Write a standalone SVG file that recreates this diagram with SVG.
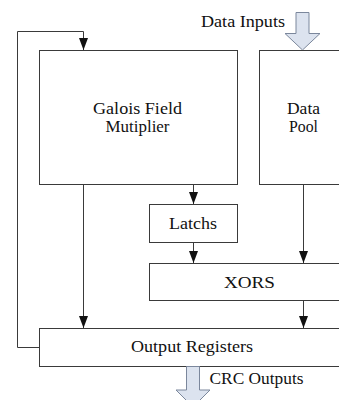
<svg xmlns="http://www.w3.org/2000/svg" width="339" height="400" viewBox="0 0 339 400">
  <style>
    .box { fill: #ffffff; stroke: #3a3a3a; stroke-width: 1; }
    .wire { fill: none; stroke: #3a3a3a; stroke-width: 1; }
    .bus { fill: #dce3ef; stroke: #7b879c; stroke-width: 1; stroke-linejoin: miter; }
    .lbl { font-family: "Liberation Serif", "Times New Roman", serif; font-size: 17px; fill: #111111; }
    .two { font-size: 16.5px; }
    .mid { text-anchor: middle; }
  </style>
  <defs>
    <marker id="tip" markerUnits="userSpaceOnUse" markerWidth="12" markerHeight="9" refX="12" refY="4.5" orient="auto">
      <path d="M0,0 L12,4.5 L0,9 Z" fill="#111111"/>
    </marker>
  </defs>

  <rect width="339" height="400" fill="#ffffff"/>

  <!-- connectors -->
  <g id="connectors">
    <path class="wire" d="M39.5 347.5 H17.5 V31.5 H83.5 V50" marker-end="url(#tip)"/>
    <path class="wire" d="M193.5 184.5 V204" marker-end="url(#tip)"/>
    <path class="wire" d="M193.5 242.5 V263" marker-end="url(#tip)"/>
    <path class="wire" d="M303.5 184.5 V263" marker-end="url(#tip)"/>
    <path class="wire" d="M83.5 184.5 V328" marker-end="url(#tip)"/>
    <path class="wire" d="M303.5 300.5 V328" marker-end="url(#tip)"/>
  </g>

  <!-- input / output buses -->
  <g id="data-inputs">
    <polygon class="bus" points="296,12.5 309,12.5 309,33.5 320,33.5 302.5,50 285,33.5 296,33.5"/>
    <text class="lbl" x="201" y="27" textLength="84" lengthAdjust="spacingAndGlyphs">Data Inputs</text>
  </g>

  <g id="gf-multiplier">
    <rect class="box" x="39.5" y="50.5" width="198" height="134"/>
    <text class="lbl two mid" x="137.5" y="113.5" textLength="89" lengthAdjust="spacingAndGlyphs">Galois Field</text>
    <text class="lbl two mid" x="137.5" y="131.5" textLength="64" lengthAdjust="spacingAndGlyphs">Mutiplier</text>
  </g>

  <g id="data-pool">
    <rect class="box" x="259.5" y="50.5" width="90" height="134"/>
    <text class="lbl two mid" x="303.5" y="113.5" textLength="33" lengthAdjust="spacingAndGlyphs">Data</text>
    <text class="lbl two mid" x="303.5" y="131.5" textLength="29" lengthAdjust="spacingAndGlyphs">Pool</text>
  </g>

  <g id="latchs">
    <rect class="box" x="149.5" y="204.5" width="88" height="38"/>
    <text class="lbl mid" x="193" y="228.5" textLength="48" lengthAdjust="spacingAndGlyphs">Latchs</text>
  </g>

  <g id="xors">
    <rect class="box" x="149.5" y="263.5" width="200" height="37"/>
    <text class="lbl mid" x="249.5" y="287.5" textLength="51" lengthAdjust="spacingAndGlyphs">XORS</text>
  </g>

  <g id="output-registers">
    <rect class="box" x="39.5" y="328.5" width="310" height="38"/>
    <text class="lbl mid" x="192" y="352" textLength="122" lengthAdjust="spacingAndGlyphs">Output Registers</text>
  </g>

  <g id="crc-outputs">
    <polygon class="bus" points="186.5,366.5 199.5,366.5 199.5,390 210,390 193,407 176,390 186.5,390"/>
    <text class="lbl" x="209.5" y="383.5" textLength="94" lengthAdjust="spacingAndGlyphs">CRC Outputs</text>
  </g>
</svg>
